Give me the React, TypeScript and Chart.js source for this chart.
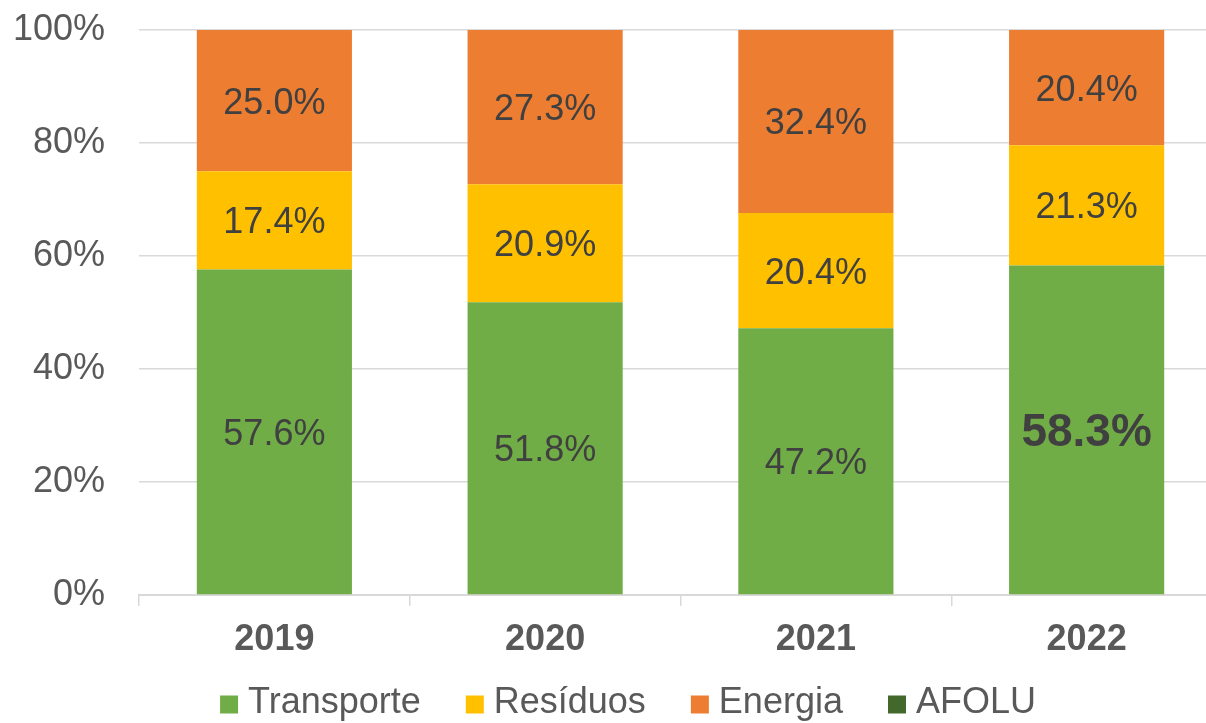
import React, { useEffect, useRef } from "react";
import { Chart, registerables } from "chart.js";

Chart.register(...registerables);

const years = ["2019", "2020", "2021", "2022"];
const transporte = [57.6, 51.8, 47.2, 58.3];
const residuos = [17.4, 20.9, 20.4, 21.3];
const energia = [25.0, 27.3, 32.4, 20.4];
const afolu = [0, 0, 0, 0];
const yTicks = [0, 20, 40, 60, 80, 100];

const seriesNames = ["Transporte", "Resíduos", "Energia", "AFOLU"];
const seriesColors = ["#70AD47", "#FFC000", "#ED7D31", "#43682B"];

const FONT = "'Liberation Sans', Arial, sans-serif";

function legendSwatch(color: string) {
  const c = document.createElement("canvas");
  c.width = 36;
  c.height = 36;
  const g = c.getContext("2d")!;
  g.fillStyle = color;
  g.fillRect(13, 10, 18, 18);
  return c;
}

const valueLabels = {
  id: "valueLabels",
  afterDatasetsDraw(chart: any) {
    const ctx = chart.ctx;
    ctx.save();
    ctx.textAlign = "center";
    ctx.textBaseline = "alphabetic";
    ctx.fillStyle = "#404040";
    chart.data.datasets.forEach((ds: any, di: number) => {
      const meta = chart.getDatasetMeta(di);
      if (meta.hidden) return;
      meta.data.forEach((el: any, i: number) => {
        const v = ds.data[i];
        if (!v) return;
        const cy = (el.y + el.base) / 2;
        const highlight = di === 0 && i === years.length - 1;
        const size = highlight ? 46 : 36;
        ctx.font = highlight ? `bold ${size}px ${FONT}` : `${size}px ${FONT}`;
        ctx.fillText(v.toFixed(1) + "%", el.x, cy + size * 0.358);
      });
    });
    ctx.restore();
  },
};

// Fix the plot box as in the original: it runs past the right edge of the
// picture, and the legend sits right of centre, low at the bottom.
const AREA = { left: 139, top: 30, right: 1222, bottom: 595 };
const LEGEND_TOP = 640.5;

const layoutTweaks = {
  id: "layoutTweaks",
  afterLayout(chart: any) {
    const ca = chart.chartArea;
    ca.left = AREA.left;
    ca.top = AREA.top;
    ca.right = AREA.right;
    ca.bottom = AREA.bottom;
    ca.width = AREA.right - AREA.left;
    ca.height = AREA.bottom - AREA.top;
    const x = chart.scales.x;
    x.left = AREA.left;
    x.right = AREA.right;
    x.width = AREA.right - AREA.left;
    x.top = AREA.bottom;
    x.bottom = AREA.bottom + 100;
    x.height = 100;
    x.configure();
    const y = chart.scales.y;
    y.left = 0;
    y.right = AREA.left;
    y.width = AREA.left;
    y.top = AREA.top;
    y.bottom = AREA.bottom;
    y.height = AREA.bottom - AREA.top;
    y.configure();
    const lg = chart.legend;
    if (lg) {
      const h = lg.height;
      lg.left = 50;
      lg.right = chart.width;
      lg.top = LEGEND_TOP;
      lg.bottom = LEGEND_TOP + h;
    }
  },
};

export default function App() {
  const ref = useRef<HTMLCanvasElement | null>(null);
  useEffect(() => {
    document.body.style.margin = "0";
    if (!ref.current) return;
    const values = [transporte, residuos, energia, afolu];
    const chart = new Chart(ref.current, {
      type: "bar",
      data: {
        labels: years,
        datasets: seriesNames.map((name, k) => ({
          label: name,
          data: values[k],
          backgroundColor: seriesColors[k],
          pointStyle: legendSwatch(seriesColors[k]),
        })),
      },
      options: {
        animation: false,
        responsive: false,
        maintainAspectRatio: false,
        datasets: {
          bar: { categoryPercentage: 1, barPercentage: 0.573 },
        },
        plugins: {
          tooltip: { enabled: false },
          legend: {
            position: "bottom",
            labels: {
              usePointStyle: true,
              pointStyleWidth: 10,
              boxHeight: 36,
              padding: 45,
              color: "#595959",
              font: { family: FONT, size: 36 },
            },
          },
        },
        scales: {
          x: {
            stacked: true,
            grid: {
              offset: true,
              drawOnChartArea: false,
              drawTicks: true,
              tickLength: 11,
              color: "#D9D9D9",
              lineWidth: 1.5,
            },
            border: { color: "#D9D9D9", width: 2 },
            ticks: {
              padding: 12,
              color: "#595959",
              font: { family: FONT, size: 36, weight: "bold" },
            },
          },
          y: {
            stacked: true,
            min: 0,
            max: 100,
            afterBuildTicks: (s: any) => {
              s.ticks = yTicks.map((v) => ({ value: v }));
            },
            grid: { color: "#D9D9D9", lineWidth: 1.5, drawTicks: false },
            border: { display: false },
            ticks: {
              padding: 34,
              color: "#595959",
              font: { family: FONT, size: 36 },
              callback: (v: any) => v + "%",
            },
          },
        },
      },
      plugins: [layoutTweaks, valueLabels],
    });
    return () => chart.destroy();
  }, []);
  return (
    <div style={{ width: 1206, height: 723, position: "relative", overflow: "hidden" }}>
      <canvas ref={ref} width={1206} height={723} style={{ display: "block" }} />
    </div>
  );
}
